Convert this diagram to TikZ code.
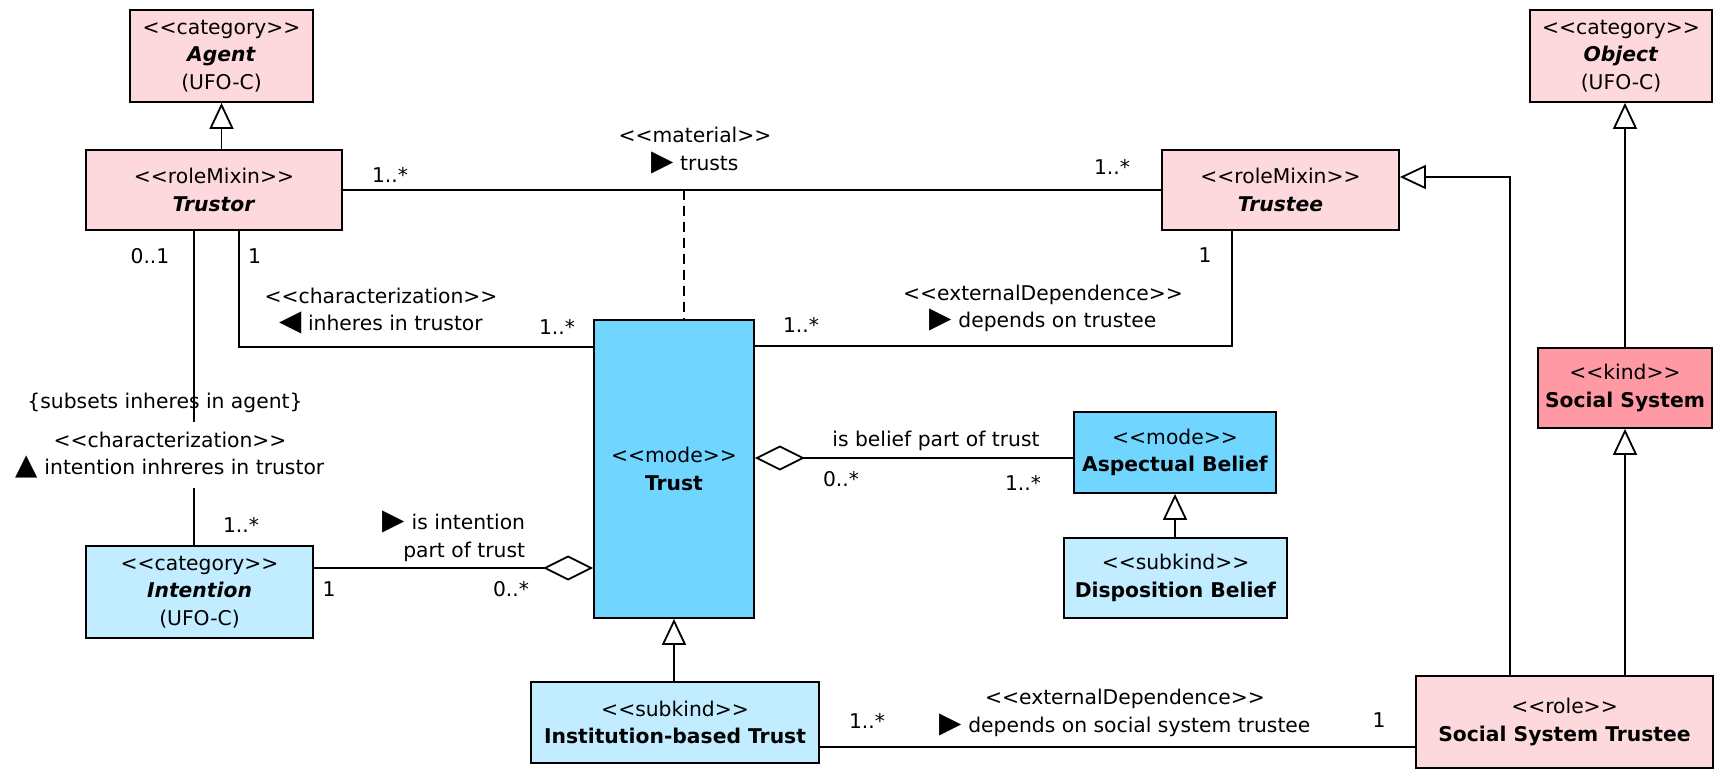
\documentclass[tikz,border=0pt]{standalone}
\usepackage{fontspec}
\setmainfont{DejaVu Sans}
\usetikzlibrary{arrows.meta}
\definecolor{rolepink}{RGB}{253,217,221}
\definecolor{kindpink}{RGB}{255,153,163}
\definecolor{modeblue}{RGB}{112,214,255}
\definecolor{subblue}{RGB}{194,236,255}
\newcommand{\stereo}[1]{<{}<#1>{}>}
\newcommand{\dir}[1]{{\fontsize{14.5pt}{13.75pt}\selectfont #1}}

\begin{document}
\begin{tikzpicture}[x=0.5pt,y=-0.5pt,every path/.style={line width=0.9pt},
  every node/.style={font=\fontsize{10.15pt}{13.75pt}\selectfont,inner sep=0pt,align=center},
  cls/.style={draw},
  gen/.style={-{Triangle[open,length=13pt,width=12pt]}},
  aggr/.style={{Diamond[open,length=25pt,width=12.5pt]}-}]
\useasboundingbox (0,0) rectangle (1725,783);
\node[cls,fill=rolepink,minimum width=91.5pt,minimum height=46pt] (agent) at (221.5,56) {\stereo{category}\\\textbf{\textit{Agent}}\\(UFO-C)};
\node[cls,fill=rolepink,minimum width=128pt,minimum height=40pt] (trustor) at (214,190) {\stereo{roleMixin}\\\textbf{\textit{Trustor}}};
\node[cls,fill=rolepink,minimum width=118.5pt,minimum height=40pt] (trustee) at (1280.5,190) {\stereo{roleMixin}\\\textbf{\textit{Trustee}}};
\node[cls,fill=rolepink,minimum width=91pt,minimum height=46pt] (object) at (1621,56) {\stereo{category}\\\textbf{\textit{Object}}\\(UFO-C)};
\node[cls,fill=kindpink,minimum width=87pt,minimum height=40pt] (socsys) at (1625,388) {\stereo{kind}\\\textbf{Social System}};
\node[cls,fill=modeblue,minimum width=80pt,minimum height=149pt] (trust) at (674,469) {\stereo{mode}\\\textbf{Trust}};
\node[cls,fill=modeblue,minimum width=101pt,minimum height=40.5pt] (aspect) at (1175,452.5) {\stereo{mode}\\\textbf{Aspectual Belief}};
\node[cls,fill=subblue,minimum width=111.5pt,minimum height=40pt] (dispo) at (1175.5,578) {\stereo{subkind}\\\textbf{Disposition Belief}};
\node[cls,fill=subblue,minimum width=113.5pt,minimum height=46pt] (intention) at (199.5,592) {\stereo{category}\\\textbf{\textit{Intention}}\\(UFO-C)};
\node[cls,fill=subblue,minimum width=144pt,minimum height=40.5pt] (inst) at (675,722.5) {\stereo{subkind}\\\textbf{Institution-based Trust}};
\node[cls,fill=rolepink,minimum width=148.5pt,minimum height=46pt] (sst) at (1564.5,722) {\stereo{role}\\\textbf{Social System Trustee}};
\coordinate (dash) at (684,190);
\coordinate (chk) at (239,347);
\coordinate (extk) at (1232,346);
\coordinate (inh) at (194,0);
\coordinate (ipart) at (0,568);
\coordinate (bpart) at (0,458);
\coordinate (sdep) at (0,747);
\coordinate (sgen) at (1510,177);
\node (sub) at (165,403) {\{subsets inheres in agent\}};
\draw[gen] (trustor.north -| agent.south) -- (agent.south);
\draw (trustor) -- (trustee);
\draw[dash pattern=on 5pt off 3pt] (dash) -- (trust.north -| dash);
\draw (trustor.south -| chk) -- (chk) -- (trust.west |- chk);
\draw (trustee.south -| extk) -- (extk) -- (trust.east |- extk);
\draw (trustor.south -| inh) -- (intention.north -| inh);
\draw[aggr] (trust.west |- ipart) -- (intention.east |- ipart);
\draw[aggr] (trust.east |- bpart) -- (aspect.west |- bpart);
\draw[gen] (dispo.north -| aspect.south) -- (aspect.south);
\draw[gen] (inst.north -| trust.south) -- (trust.south);
\draw (inst.east |- sdep) -- (sst.west |- sdep);
\draw[gen] (sst.north -| sgen) |- (trustee.east |- sgen);
\draw[gen] (sst.north -| socsys.south) -- (socsys.south);
\draw[gen] (socsys.north) -- (object.south -| socsys.north);
\node (mat) at (695,150.5) {\stereo{material}\\\dir{▶} trusts};
\node (m1) at (390,175) {1..*};
\node (m2) at (1112,167) {1..*};
\node (m3) at (150,256) {0..1};
\node (m4) at (254.5,256) {1};
\node (chr1) at (381,311) {\stereo{characterization}\\\dir{◀} inheres in trustor};
\node (m5) at (557,327) {1..*};
\node (m6) at (801,325) {1..*};
\node (ext1) at (1043,308.5) {\stereo{externalDependence}\\\dir{▶} depends on trustee};
\node (m7) at (1205,255) {1};
\node[fill=white,inner ysep=5pt] (chr2) at (170,455) {\stereo{characterization}\\\dir{▲} intention inhreres in trustor};
\node (m8) at (241,525) {1..*};
\node[anchor=east,align=right] (intp) at (526,536.5) {\dir{▶} is intention\\part of trust};
\node (m9) at (329,589) {1};
\node (m10) at (511,589) {0..*};
\node (bel) at (936,441) {is belief part of trust};
\node (m11) at (841,479) {0..*};
\node (m12) at (1023,483) {1..*};
\node (m13) at (867,721) {1..*};
\node (ext2) at (1125,713) {\stereo{externalDependence}\\\dir{▶} depends on social system trustee};
\node (m14) at (1379,720) {1};
\end{tikzpicture}
\end{document}
